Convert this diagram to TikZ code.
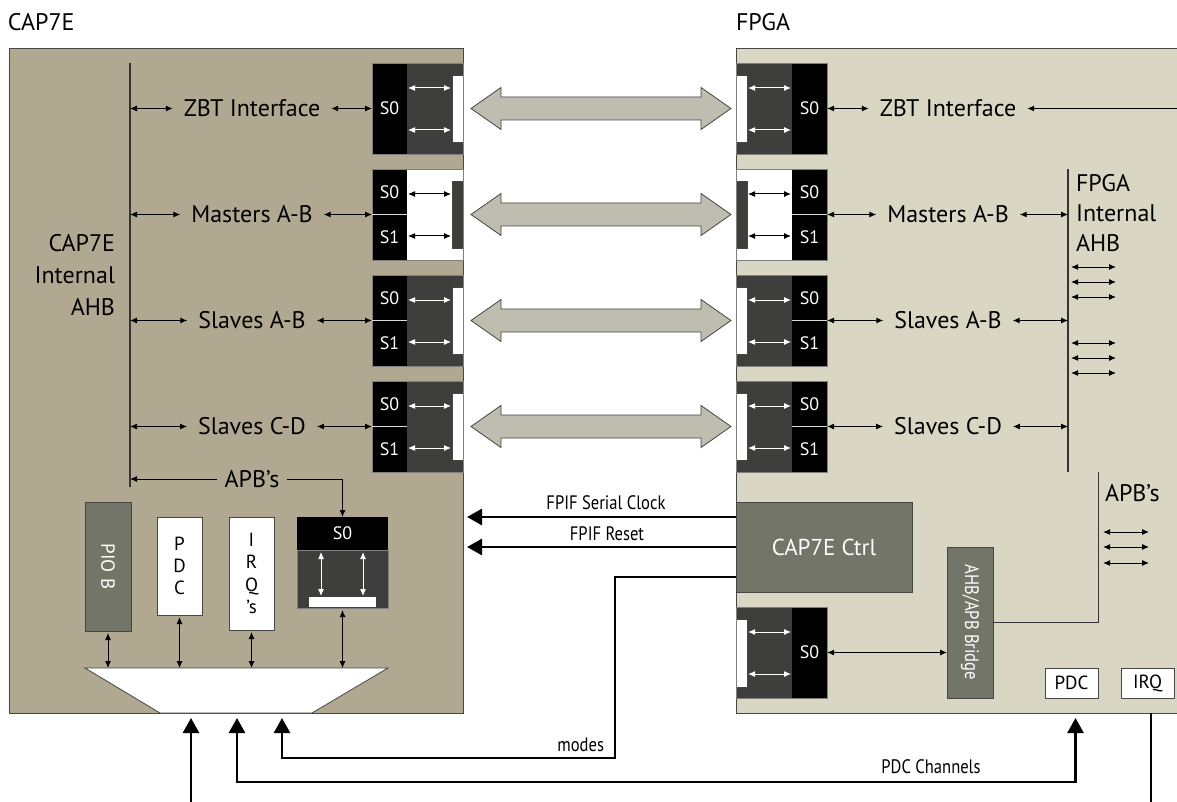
\documentclass[tikz,border=0pt]{standalone}
\usepackage{graphicx}
\usepackage{fontspec}
\setmainfont{PT Sans}
\newfontfamily\narrow{PT Sans}[FakeStretch=0.85]
\usetikzlibrary{arrows.meta,calc}

\definecolor{capc}{RGB}{176,168,144}
\definecolor{fpgac}{RGB}{217,214,196}
\definecolor{portc}{RGB}{62,63,61}
\definecolor{unitc}{RGB}{115,117,104}
\definecolor{busc}{RGB}{190,189,175}
\definecolor{edgec}{RGB}{70,70,66}

\newcommand\bigf{\fontsize{24}{32}\selectfont}
\newcommand\midf{\fontsize{19}{22}\selectfont}
\newcommand\portf{\fontsize{18}{20}\selectfont}
\newcommand\narrowf{\narrow\fontsize{19.5}{22}\selectfont}
\newcommand\ctrlf{\fontsize{23}{26}\selectfont}
\newcommand\bridgef{\narrow\fontsize{19.5}{22}\selectfont}

\begin{document}
\begin{tikzpicture}[x=1pt,y=-1pt,
    every node/.style={inner sep=0pt,outer sep=0pt},
    lnk/.style={{Latex[length=7pt,width=6pt]}-{Latex[length=7pt,width=6pt]},line width=1pt},
    tolnk/.style={-{Latex[length=7pt,width=6pt]},line width=1pt},
    sig/.style={-{Triangle[length=15pt,width=16pt]},line width=2.6pt},
    sigboth/.style={{Triangle[length=15pt,width=16pt]}-{Triangle[length=15pt,width=16pt]},line width=2.6pt},
    bus/.style={line width=1.2pt,black!80},
    port/.style={fill=black,minimum width=35,minimum height=91,anchor=north west},
    ptxt/.style={white,font=\portf},
    lbl/.style={font=\bigf,inner xsep=11pt},
    unit/.style={draw=edgec,line width=0.8pt,fill=unitc,text=white},
    wbox/.style={draw=edgec,line width=0.8pt,fill=white},
    fat/.style={draw=edgec,line width=0.8pt,fill=busc}]
  \fill[white] (0,0) rectangle (1177,802);
  \useasboundingbox (0,0) rectangle (1177,802);
  % the two chips
  \node[draw=edgec,fill=capc,line width=0.8pt,minimum width=454,minimum height=665,anchor=north west] (cap) at (9,48) {};
  \node[draw=edgec,fill=fpgac,line width=0.8pt,minimum width=460,minimum height=665,anchor=north west] (fpga) at (736,48) {};
  \node[font=\bigf,anchor=west] (capname) at (8,22) {CAP7E};
  \node[font=\bigf,anchor=west] (fpganame) at (736,22) {FPGA};

  % internal buses
  \coordinate (ahbL) at (130,63);
  \coordinate (ahbR) at (1068,169);
  \coordinate (apbR) at (1098,472);
  \coordinate (edgeR) at (1180,0);
  \coordinate (edgeB) at (0,806);
  \draw[bus] (ahbL) -- (130,487);
  \draw[bus] (ahbR) -- (1068,472);
  \node[font=\bigf,align=right,anchor=east] (ahbLname) at (115,275) {CAP7E\\Internal\\AHB};
  \node[font=\fontsize{24}{30}\selectfont,align=left,anchor=west] (ahbRname) at (1076,213) {FPGA\\Internal\\AHB};

  \foreach \y/\lab/\k [count=\i] in {63/ZBT Interface/1,169/Masters A-B/2,275/Slaves A-B/3,381/Slaves C-D/3}{
    \pgfmathsetmacro\yc{\y+45.5}
    \ifnum\k=2 \def\backc{white}\def\barc{portc}\def\arrc{black}
    \else \def\backc{portc}\def\barc{white}\def\arrc{white}\fi
    % ports on both sides
    \fill[\backc] (407,\y) rectangle (463,\y+91);
    \fill[\backc] (736,\y) rectangle (792,\y+91);
    \filldraw[fill=\barc,draw=edgec,line width=0.5pt] (452,\y+12) rectangle (463,\y+79);
    \filldraw[fill=\barc,draw=edgec,line width=0.5pt] (736,\y+12) rectangle (747,\y+79);
    \node[port] (lp\i) at (372,\y) {};
    \node[port] (rp\i) at (792,\y) {};
    \draw[gray,line width=0.6pt] (372,\y) rectangle (463,\y+91) (736,\y) rectangle (827,\y+91);
    \draw[lnk,\arrc] (408,\y+25) -- (451,\y+25);
    \draw[lnk,\arrc] (408,\y+67) -- (451,\y+67);
    \draw[lnk,\arrc] (748,\y+25) -- (791,\y+25);
    \draw[lnk,\arrc] (748,\y+67) -- (791,\y+67);
    \ifnum\k=1
      \node[ptxt] (ls\i) at (lp\i) {S0};
      \node[ptxt] (rs\i) at (rp\i) {S0};
    \else
      \draw[white!70!gray,line width=0.7pt] (lp\i.west) -- (lp\i.east) (rp\i.west) -- (rp\i.east);
      \node[ptxt] (ls\i) at (389.5,\y+23) {S0};
      \node[ptxt] (lt\i) at (389.5,\y+68) {S1};
      \node[ptxt] (rs\i) at (809.5,\y+23) {S0};
      \node[ptxt] (rt\i) at (809.5,\y+68) {S1};
    \fi
    % link between the chips
    \draw[fat] (471,\yc) -- (501,\yc-21) -- (501,\yc-11.5) -- (701,\yc-11.5) -- (701,\yc-21) -- (731,\yc)
      -- (701,\yc+21) -- (701,\yc+11.5) -- (501,\yc+11.5) -- (501,\yc+21) -- cycle;
    % labels
    \node[lbl] (l\i) at (252,\yc) {\lab};
    \draw[lnk] (ahbL |- l\i.west) -- (l\i.west);
    \draw[lnk] (l\i.east) -- (lp\i.west);
    \node[lbl] (r\i) at (948,\yc) {\lab};
    \draw[lnk] (rp\i.east) -- (r\i.west);
    \ifnum\i=1 \draw[tolnk] (edgeR |- r\i.east) -- (r\i.east);
    \else \draw[lnk] (r\i.east) -- (ahbR |- r\i.east); \fi
  }
  \foreach \y in {267,282,297,343,358,373} \draw[lnk] (1071,\y) -- (1116,\y);

  % APB side of CAP7E
  \node[font=\bigf,inner xsep=8pt] (apbL) at (252,479) {APB’s};
  \draw[tolnk] (apbL.west) -- (ahbL |- apbL.west);
  \node[fill=black,minimum width=91,minimum height=33,text=white,font=\portf] (ls0) at (342.5,533.5) {S0};
  \draw[tolnk] (apbL.east) -| (ls0.north);
  \node[fill=portc,draw=gray,line width=0.6pt,minimum width=91,minimum height=58] (ld0) at (342.5,579) {};
  \node[fill=white,minimum width=67,minimum height=10] (lw0) at (342.5,602) {};
  \draw[lnk,white] (321,552) -- (321,596);
  \draw[lnk,white] (363,552) -- (363,596);
  \node[unit,minimum width=46,minimum height=129] (pio) at (108,566.5) {\rotatebox{-90}{\midf PIO B}};
  \node[wbox,minimum width=45,minimum height=98,align=center,font=\fontsize{19}{22}\selectfont] (pdcL) at (179.5,566) {P\\D\\C};
  \node[wbox,minimum width=45,minimum height=113,align=center,font=\fontsize{19}{22.5}\selectfont] (irqL) at (251.5,573.5) {I\\R\\Q\\’s};

  % multiplexer
  \coordinate (muxT) at (0,668);
  \draw[fill=white,draw=edgec,line width=0.8pt] (85,668) -- (388,668) -- (312,713) -- (160,713) -- cycle;
  \foreach \u in {pio,pdcL,irqL,ld0}
    \draw[lnk,shorten <=2pt] (\u.south) -- (\u.south |- muxT);
  \coordinate (in1) at (191,718);
  \coordinate (in2) at (237,718);
  \coordinate (in3) at (282,718);
  \draw[sig] (in1 |- edgeB) -- (in1);

  % CAP7E control in the FPGA
  \node[unit,minimum width=176,minimum height=90,anchor=north west,font=\ctrlf] (ctrl) at (736,502) {CAP7E Ctrl};
  \coordinate (clk) at ($(ctrl.west)+(0,-30)$);
  \draw[sig] (clk) -- ($(cap.east |- clk)+(4,0)$);
  \draw[sig] (ctrl.west) -- ($(cap.east |- ctrl.west)+(4,0)$);
  \node[font=\narrowf] (clkname) at (606,503) {FPIF Serial Clock};
  \node[font=\narrowf] (rstname) at (607,534) {FPIF Reset};
  \coordinate (mbend) at (615,758);
  \draw[sig] ($(ctrl.west)+(0,30)$) -| (mbend) -| (in3);
  \node[font=\narrowf,anchor=east] (modes) at (604,745) {modes};

  % APB side of the FPGA
  \fill[portc] (736,607) rectangle (792,698);
  \filldraw[fill=white,draw=edgec,line width=0.5pt] (736,619) rectangle (747,687);
  \node[port] (rp0) at (792,607) {};
  \draw[gray,line width=0.6pt] (736,607) rectangle (827,698);
  \node[ptxt] (rs0) at (rp0) {S0};
  \draw[lnk,white] (748,632) -- (791,632);
  \draw[lnk,white] (748,674) -- (791,674);
  \node[unit,minimum width=46,minimum height=151] (bridge) at (970,622.5) {\rotatebox{-90}{\bridgef AHB/APB Bridge}};
  \draw[lnk] (rp0.east) -- (rp0.east -| bridge.west);
  \draw[bus,line width=1pt] (bridge.east) -| (apbR);
  \node[font=\bigf,anchor=west] (apbRname) at (1105,493) {APB’s};
  \foreach \y in {532,547,563} \draw[lnk] (1103,\y) -- (1149,\y);
  \node[wbox,minimum width=53,minimum height=30,font=\midf] (pdcR) at (1071.5,683) {PDC};
  \node[wbox,minimum width=53,minimum height=30,font=\midf] (irqR) at (1147.5,683) {IRQ};
  \draw[sigboth] (in2) -- ++(0,64) -| ($(pdcR.south)+(4,20)$);
  \node[font=\narrowf] (pdcch) at (931,767) {PDC Channels};
  \coordinate (irqout) at (1151,806);
  \draw[line width=2pt] (irqout |- fpga.south) -- (irqout);
\end{tikzpicture}
\end{document}
